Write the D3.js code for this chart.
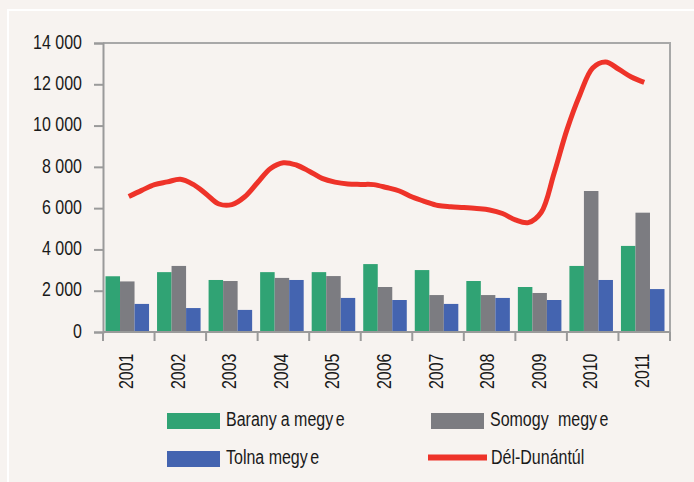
<!DOCTYPE html>
<html>
<head>
<meta charset="utf-8">
<script src="https://cdn.jsdelivr.net/npm/d3@7"></script>
<style>
  html, body { margin: 0; padding: 0; background: #f7f3f0; }
  svg text { font-family: "Liberation Sans", Arial, sans-serif; fill: #1a1a1a; }
</style>
</head>
<body>
<div id="chart"></div>
<script>
// chart data
const years = ["2001", "2002", "2003", "2004", "2005", "2006", "2007", "2008", "2009", "2010", "2011"];
const baranya = [2700, 2900, 2520, 2900, 2900, 3290, 3000, 2470, 2180, 3200, 4170];
const somogy = [2450, 3200, 2470, 2620, 2710, 2180, 1790, 1790, 1890, 6830, 5780];
const tolna = [1360, 1160, 1070, 2520, 1650, 1550, 1360, 1650, 1550, 2520, 2080];
// Dél-Dunántúl (2001 Q1 ... 2011 Q1)
const delDunantul = [6560, 6860, 7140, 7270, 7400, 7150, 6690, 6200, 6170, 6550,
  7240, 7920, 8200, 8090, 7790, 7440, 7260, 7170, 7150, 7140,
  7000, 6830, 6540, 6320, 6130, 6070, 6030, 5980, 5910, 5740,
  5430, 5300, 5790, 7680, 9790, 11480, 12790, 13080, 12740, 12350, 12090];
const yTicks = [0, 2000, 4000, 6000, 8000, 10000, 12000, 14000];
const seriesNames = ["Baranya megye", "Somogy megye", "Tolna megye"];
const lineName = "Dél-Dunántúl";

const width = 694, height = 482;
const margin = {top: 43, right: 24, bottom: 150, left: 103};
const colors = {"Baranya megye": "#30a374", "Somogy megye": "#7c7c81", "Tolna megye": "#4464b0"};
const lineColor = "#ee3329";
const axisColor = "#9a9a9a";
const FS = 19.5;      // font size
const NARROW = 0.82;  // horizontal squeeze, narrow face look

let svg = d3.select("#chart")
  .append("svg")
  .attr("width", width)
  .attr("height", height);

// white outer frame
svg.append("rect")
  .attr("x", 8).attr("y", 10)
  .attr("width", 720).attr("height", 500)
  .attr("fill", "none")
  .attr("stroke", "#ffffff")
  .attr("stroke-width", 2);

let g = svg.append("g")
  .attr("transform", `translate(${margin.left}, ${margin.top})`);

let plotW = width - margin.left - margin.right;  // 567
let plotH = height - margin.top - margin.bottom; // 289

let x = d3.scaleBand()
  .domain(years)
  .range([0, plotW]);

let xSub = d3.scaleBand()
  .domain(seriesNames)
  .range([2.5, x.bandwidth() - 5.5]);

let y = d3.scaleLinear()
  .domain([0, 14000])
  .range([plotH, 0]);

// plot frame (top + right)
g.append("path")
  .attr("d", `M0,0H${plotW}V${plotH}`)
  .attr("fill", "none")
  .attr("stroke", "#a8a8a8")
  .attr("stroke-width", 2);

// bars
let rows = years.map((yr, i) => ({year: yr, values: [
  {name: seriesNames[0], v: baranya[i]},
  {name: seriesNames[1], v: somogy[i]},
  {name: seriesNames[2], v: tolna[i]}
]}));

g.append("g")
  .selectAll("g")
  .data(rows)
  .enter()
  .append("g")
  .attr("transform", d => `translate(${x(d.year)}, 0)`)
  .selectAll("rect")
  .data(d => d.values)
  .enter()
  .append("rect")
  .attr("x", d => xSub(d.name))
  .attr("y", d => y(d.v))
  .attr("width", xSub.bandwidth())
  .attr("height", d => plotH - y(d.v))
  .attr("fill", d => colors[d.name]);

// y axis
let fmt = d3.formatLocale({decimal: ",", thousands: "\u00a0", grouping: [3], currency: ["", ""]}).format(",d");
let yAxis = g.append("g")
  .call(d3.axisLeft(y).tickValues(yTicks).tickFormat(fmt).tickSize(9).tickPadding(12));
yAxis.select(".domain").attr("stroke", axisColor).attr("stroke-width", 2);
yAxis.selectAll(".tick line").attr("stroke", axisColor).attr("stroke-width", 2);
yAxis.selectAll("text")
  .style("font-size", FS + "px")
  .attr("fill", "#1a1a1a")
  .attr("x", -21 / NARROW)
  .attr("dy", "0.27em")
  .attr("transform", `scale(${NARROW}, 1)`);

// x axis with ticks on band boundaries
let xAxis = g.append("g")
  .attr("transform", `translate(0, ${plotH})`);
xAxis.append("line")
  .attr("x1", 0).attr("x2", plotW)
  .attr("stroke", axisColor).attr("stroke-width", 2);
let bounds = years.map(yr => x(yr)).concat([plotW]);
xAxis.selectAll(".bt")
  .data(bounds)
  .enter()
  .append("line")
  .attr("class", "bt")
  .attr("x1", d => d).attr("x2", d => d)
  .attr("y1", 0).attr("y2", 9)
  .attr("stroke", axisColor).attr("stroke-width", 2);
xAxis.selectAll(".yl")
  .data(years)
  .enter()
  .append("text")
  .attr("class", "yl")
  .attr("transform", d => `translate(${x(d) + x.bandwidth() / 2 + 4.5}, 21.5) rotate(-90) scale(${NARROW}, 1)`)
  .style("text-anchor", "end")
  .style("font-size", FS + "px")
  .text(d => d);

// red line
let xLine = d3.scaleLinear()
  .domain([0, years.length - 1])
  .range([x(years[0]) + x.bandwidth() / 2, x(years[years.length - 1]) + x.bandwidth() / 2]);

g.append("path")
  .datum(delDunantul)
  .attr("fill", "none")
  .attr("stroke", lineColor)
  .attr("stroke-width", 5)
  .attr("stroke-linejoin", "round")
  .attr("d", d3.line()
    .x((d, i) => xLine(i / 4))
    .y(d => y(d))
    .curve(d3.curveCatmullRom.alpha(0.5)));

// legend (pieces + gaps mimic the original's loose spacing)
let legendItems = [
  {name: seriesNames[0], type: "rect", x: 167, y: 413, parts: [["Barany", 0], ["a megy", 5], ["e", 3]]},
  {name: seriesNames[1], type: "rect", x: 431, y: 413, parts: [["Somogy ", 0], ["megy", 6], ["e", 3]]},
  {name: seriesNames[2], type: "rect", x: 167, y: 451, parts: [["Tolna megy", 0], ["e", 3]]},
  {name: lineName, type: "line", x: 428, y: 451, parts: [[lineName, 0]]}
];
let legend = svg.append("g");
legendItems.forEach(function(item) {
  if (item.type === "rect") {
    legend.append("rect")
      .attr("x", item.x).attr("y", item.y)
      .attr("width", 53).attr("height", 16)
      .attr("fill", colors[item.name]);
  } else {
    legend.append("line")
      .attr("x1", item.x).attr("x2", item.x + 59)
      .attr("y1", item.y + 6.5).attr("y2", item.y + 6.5)
      .attr("stroke", lineColor).attr("stroke-width", 6);
  }
  let tx = item.type === "rect" ? item.x + 59 : item.x + 63;
  let t = legend.append("text")
    .attr("transform", `translate(${tx}, ${item.y + 13}) scale(${NARROW}, 1)`)
    .style("font-size", FS + "px");
  item.parts.forEach(function(p) {
    t.append("tspan").attr("dx", p[1]).text(p[0]);
  });
});
</script>
</body>
</html>
